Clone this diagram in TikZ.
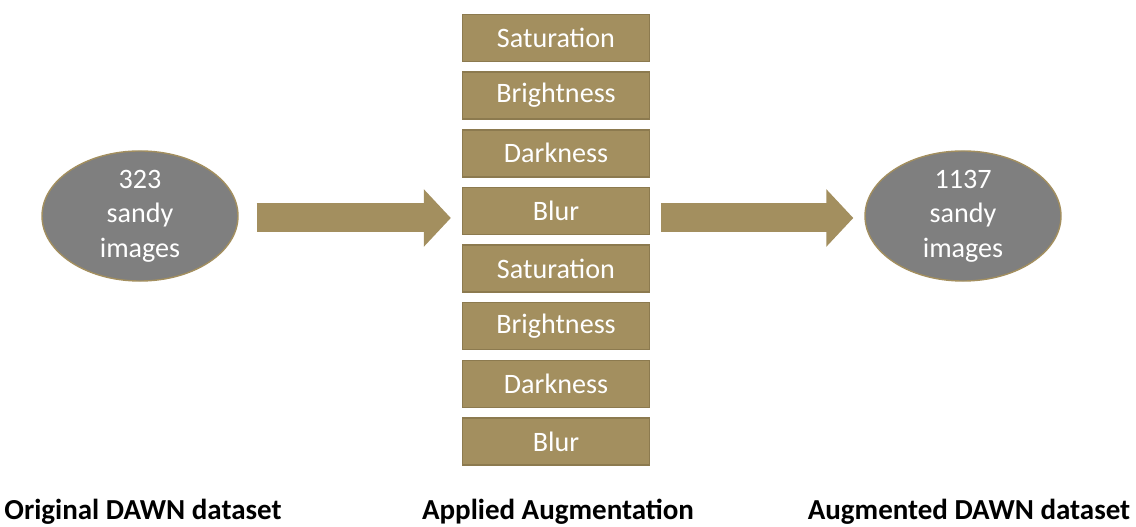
\documentclass[tikz,border=0pt]{standalone}
\usepackage{fontspec}
\setmainfont{Carlito}
\usetikzlibrary{shapes.geometric, arrows.meta, positioning, calc}
\definecolor{sandGold}{HTML}{A38F5F}
\definecolor{sandEdge}{HTML}{8C7A4F}
\definecolor{ovalGray}{HTML}{7F7F7F}
\tikzset{
    % Shapes
    augBox/.style={rectangle, draw=sandEdge, fill=sandGold, line width=0.8pt,
                   minimum width=3.74cm, minimum height=0.94cm, inner sep=0pt,
                   text=white, font=\fontsize{16}{19.6}\selectfont},
    dataOval/.style={ellipse, draw=sandGold, fill=ovalGray, line width=0.8pt,
                     minimum width=3.92cm, minimum height=2.56cm, inner sep=0pt,
                     align=center, text=white, font=\fontsize{16}{19.6}\selectfont},
    caption/.style={font=\fontsize{16.5}{20}\selectfont\bfseries, text=black},
    % Flow
    fatArrow/.style={draw=sandGold, line width=0.58cm,
                     -{Triangle[length=0.54cm, width=1.12cm]}}
}
\begin{document}
\begin{tikzpicture}[node distance=0.185cm]
\useasboundingbox (0,0) rectangle (22.72,10.54);

\node[dataOval] (orig) at (2.8,6.22) {323\\sandy\\images};
\node[dataOval] (aug) at (19.26,6.22) {1137\\sandy\\images};

% augmentation stack
\node[augBox] (sat1) at (11.12,9.78) {Saturation};
\node[augBox, below=of sat1] (bri1) {Brightness};
\node[augBox, below=of bri1] (dark1) {Darkness};
\node[augBox, below=of dark1] (blur1) {Blur};
\node[augBox, below=of blur1] (sat2) {Saturation};
\node[augBox, below=of sat2] (bri2) {Brightness};
\node[augBox, below=of bri2] (dark2) {Darkness};
\node[augBox, below=of dark2] (blur2) {Blur};

\draw[fatArrow, shorten <=0.36cm, shorten >=0.22cm]
    ($(orig.east)+(0,-0.04)$) -- ($(orig.east -| blur1.west)+(0,-0.04)$);
\draw[fatArrow, shorten <=0.22cm, shorten >=0.22cm]
    ($(aug.west -| blur1.east)+(0,-0.04)$) -- ($(aug.west)+(0,-0.04)$);

\node[caption] (capOrig) at (2.86,0.3) {Original DAWN dataset};
\node[caption] (capAug) at (11.16,0.3) {Applied Augmentation};
\node[caption] (capRes) at (19.38,0.3) {Augmented DAWN dataset};

\end{tikzpicture}
\end{document}
